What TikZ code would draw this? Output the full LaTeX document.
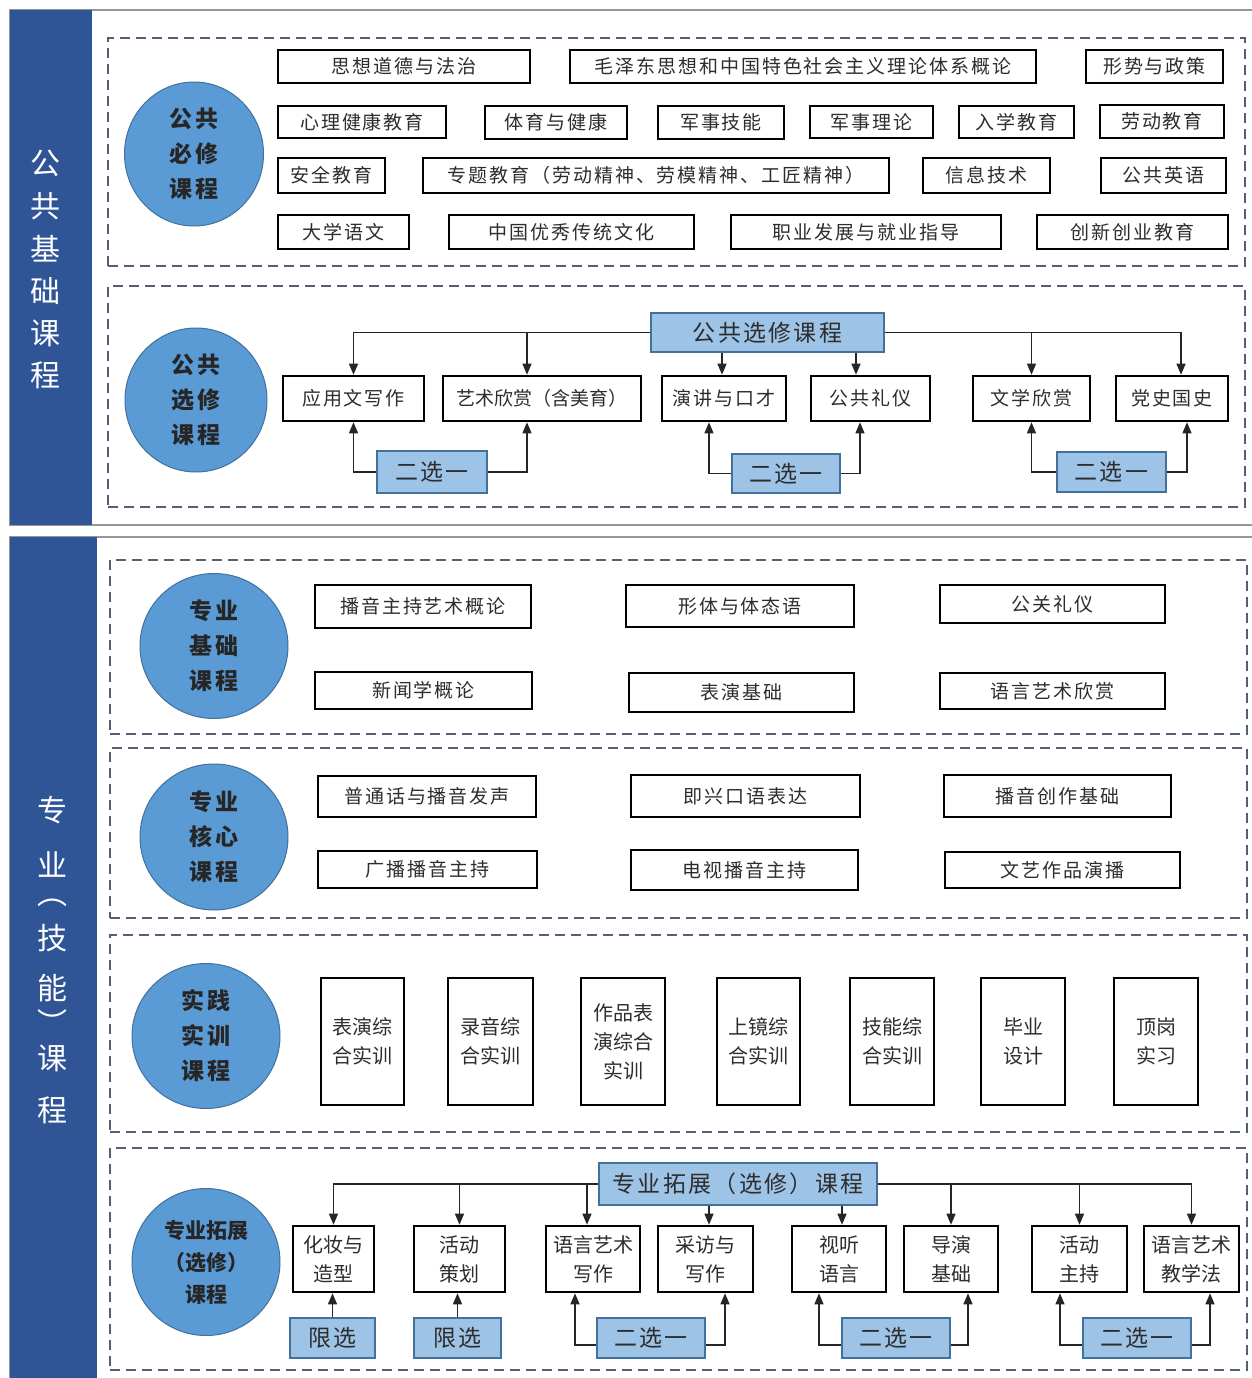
\documentclass[tikz,border=0pt]{standalone}
\usepackage{fontspec}
\setmainfont{Noto Sans CJK SC}
\newfontfamily\cjksp[LetterSpace=10]{Noto Sans CJK SC}
\usetikzlibrary{arrows.meta,calc,shapes.geometric}
\definecolor{barblue}{RGB}{47,85,151}
\definecolor{circblue}{RGB}{91,155,213}
\definecolor{circedge}{RGB}{65,113,156}
\definecolor{lightblue}{RGB}{157,195,230}
\definecolor{dashcol}{RGB}{85,95,115}
\definecolor{txt}{RGB}{45,45,45}
\definecolor{panelgray}{RGB}{150,150,150}
\tikzset{
 box/.style={draw=black, line width=2.6pt, fill=white, inner sep=0pt, text=txt, align=center, font=\cjksp\fontsize{19}{22}\selectfont},
 vbox/.style={box, font=\fontsize{20}{29}\selectfont},
 hbox/.style={draw=circedge, line width=1.2pt, fill=lightblue, inner sep=0pt, text=txt, align=center, font=\cjksp\fontsize{23}{26}\selectfont},
 grp/.style={draw=dashcol, line width=2.4pt, dash pattern=on 10pt off 6pt, inner sep=0pt},
 circ/.style={ellipse, draw=circedge, line width=1pt, fill=circblue, inner sep=0pt, align=center, text=black!85, font=\cjksp\bfseries\fontsize{23}{35}\selectfont},
 arr/.style={draw=black!85, line width=1.3pt, -{Triangle[length=11pt,width=9pt]}},
 sidetxt/.style={text=white, inner sep=0pt, font=\fontsize{30}{36}\selectfont},
}
\newcommand\mybox[7][box]{\node[#1,minimum width={#5-#3},minimum height={#6-#4}] (#2) at ({(#3+#5)/2},{(#4+#6)/2}) {#7};}
\begin{document}
\begin{tikzpicture}[x=1pt,y=-1pt]
\useasboundingbox (0,0) rectangle (1251,1378);
\fill[white] (0,0) rectangle (1251,1378);
% panels
\draw[panelgray, line width=1.5pt] (10,10) rectangle (1262,525);
\fill[barblue] (10,10) rectangle (92,525);
\draw[panelgray, line width=1.5pt] (10,537) rectangle (1262,1390);
\fill[barblue] (10,537) rectangle (97,1390);
\foreach \c/\y [count=\i] in {公/163,共/206,基/249,础/291,课/333,程/375}
  \node[sidetxt] (sa\i) at (45,\y) {\c};
\foreach \c/\y [count=\i] in {专/810,业/864,︵/903,技/938,能/988,︶/1022,课/1058,程/1110}
  \node[sidetxt] (sb\i) at (52,\y) {\c};

% ===== group 1: public required
\mybox[grp]{g1}{108}{38}{1245}{266}{}
\node[circ, minimum width=139, minimum height=144] (c1) at (194,154) {公共\\必修\\课程};
\mybox{a1}{278}{50}{530}{83}{思想道德与法治}
\mybox{a2}{570}{50}{1036}{83}{毛泽东思想和中国特色社会主义理论体系概论}
\mybox{a3}{1086}{50}{1223}{83}{形势与政策}
\mybox{a4}{278}{106}{446}{138}{心理健康教育}
\mybox{a5}{485}{106}{627}{139}{体育与健康}
\mybox{a6}{658}{106}{784}{139}{军事技能}
\mybox{a7}{810}{106}{933}{138}{军事理论}
\mybox{a8}{959}{106}{1074}{138}{入学教育}
\mybox{a9}{1100}{105}{1224}{138}{劳动教育}
\mybox{a10}{278}{158}{385}{193}{安全教育}
\mybox{a11}{423}{158}{889}{193}{专题教育（劳动精神、劳模精神、工匠精神）}
\mybox{a12}{923}{158}{1050}{193}{信息技术}
\mybox{a13}{1101}{158}{1226}{193}{公共英语}
\mybox{a14}{278}{215}{409}{249}{大学语文}
\mybox{a15}{449}{215}{694}{249}{中国优秀传统文化}
\mybox{a16}{731}{215}{1001}{249}{职业发展与就业指导}
\mybox{a17}{1037}{215}{1228}{249}{创新创业教育}

% ===== group 2: public elective
\mybox[grp]{g2}{108}{286}{1245}{507}{}
\node[circ, minimum width=142, minimum height=144] (c2) at (196,400) {公共\\选修\\课程};
\mybox[hbox]{hA}{651}{313}{884}{352}{公共选修课程}
\mybox{b1}{283}{376}{424}{421}{应用文写作}
\mybox[box,font=\fontsize{19}{22}\selectfont]{b2}{443}{376}{641}{421}{艺术欣赏（含美育）}
\mybox{b3}{662}{376}{786}{421}{演讲与口才}
\mybox{b4}{811}{376}{930}{421}{公共礼仪}
\mybox{b5}{973}{376}{1090}{421}{文学欣赏}
\mybox{b6}{1116}{376}{1228}{421}{党史国史}
\mybox[hbox]{s1}{377}{451}{487}{493}{二选一}
\mybox[hbox]{s2}{732}{454}{840}{493}{二选一}
\mybox[hbox]{s3}{1057}{452}{1166}{492}{二选一}
\coordinate (j2) at (527,0);
\coordinate (j3) at (722,0);
\coordinate (j4) at (856,0);
\coordinate (j6) at (1181,0);
\coordinate (u3) at (709,0);
\coordinate (u4) at (860,0);
\coordinate (u6) at (1187,0);
\draw[arr] (hA.west) -| (b1.north);
\draw[arr] (j2 |- hA.west) -- (j2 |- b2.north);
\draw[arr] (j3 |- hA.south) -- (j3 |- b3.north);
\draw[arr] (j4 |- hA.south) -- (j4 |- b4.north);
\draw[arr] (hA.east) -| (j6 |- b6.north);
\draw[arr] (b5.north |- hA.east) -- (b5.north);
\draw[arr] (s1.west) -| (b1.south);
\draw[arr] (s1.east) -| (j2 |- b2.south);
\draw[arr] (s2.west) -| (u3 |- b3.south);
\draw[arr] (s2.east) -| (u4 |- b4.south);
\draw[arr] (s3.west) -| (b5.south);
\draw[arr] (s3.east) -| (u6 |- b6.south);

% ===== group 3: professional basics
\mybox[grp]{g3}{110}{560}{1247}{734}{}
\node[circ, minimum width=148, minimum height=145] (c3) at (214,646) {专业\\基础\\课程};
\mybox{p1}{315}{585}{531}{628}{播音主持艺术概论}
\mybox{p2}{626}{585}{854}{627}{形体与体态语}
\mybox{p3}{940}{585}{1165}{623}{公关礼仪}
\mybox{p4}{315}{672}{532}{709}{新闻学概论}
\mybox{p5}{629}{673}{854}{712}{表演基础}
\mybox{p6}{940}{673}{1165}{709}{语言艺术欣赏}

% ===== group 4: professional core
\mybox[grp]{g4}{110}{748}{1247}{918}{}
\node[circ, minimum width=148, minimum height=146] (c4) at (214,837) {专业\\核心\\课程};
\mybox{q1}{318}{776}{536}{817}{普通话与播音发声}
\mybox{q2}{631}{775}{860}{817}{即兴口语表达}
\mybox{q3}{944}{775}{1171}{817}{播音创作基础}
\mybox{q4}{318}{851}{537}{888}{广播播音主持}
\mybox{q5}{631}{850}{858}{890}{电视播音主持}
\mybox{q6}{945}{852}{1180}{888}{文艺作品演播}

% ===== group 5: practice
\mybox[grp]{g5}{110}{935}{1247}{1132}{}
\node[circ, minimum width=148, minimum height=145] (c5) at (206,1036) {实践\\实训\\课程};
\mybox[vbox]{r1}{321}{978}{404}{1105}{表演综\\合实训}
\mybox[vbox]{r2}{448}{978}{533}{1105}{录音综\\合实训}
\mybox[vbox]{r3}{581}{978}{665}{1105}{作品表\\演综合\\实训}
\mybox[vbox]{r4}{717}{978}{800}{1105}{上镜综\\合实训}
\mybox[vbox]{r5}{850}{978}{934}{1105}{技能综\\合实训}
\mybox[vbox]{r6}{981}{978}{1065}{1105}{毕业\\设计}
\mybox[vbox]{r7}{1114}{978}{1198}{1105}{顶岗\\实习}

% ===== group 6: extension electives
\mybox[grp]{g6}{110}{1148}{1247}{1370}{}
\node[circ, minimum width=148, minimum height=147, font=\bfseries\fontsize{21}{32}\selectfont] (c6) at (206,1262) {专业拓展\\（选修）\\课程};
\mybox[hbox]{hB}{599}{1163}{877}{1205}{专业拓展（选修）课程}
\mybox[vbox]{e1}{293}{1226}{374}{1292}{化妆与\\造型}
\mybox[vbox]{e2}{414}{1226}{505}{1292}{活动\\策划}
\mybox[vbox]{e3}{546}{1226}{640}{1292}{语言艺术\\写作}
\mybox[vbox]{e4}{658}{1226}{753}{1292}{采访与\\写作}
\mybox[vbox]{e5}{792}{1226}{886}{1292}{视听\\语言}
\mybox[vbox]{e6}{904}{1226}{998}{1292}{导演\\基础}
\mybox[vbox]{e7}{1032}{1226}{1127}{1292}{活动\\主持}
\mybox[vbox]{e8}{1144}{1226}{1239}{1292}{语言艺术\\教学法}
\mybox[hbox]{x1}{290}{1318}{375}{1358}{限选}
\mybox[hbox]{x2}{414}{1318}{501}{1358}{限选}
\mybox[hbox]{z1}{597}{1318}{705}{1358}{二选一}
\mybox[hbox]{z2}{842}{1318}{950}{1358}{二选一}
\mybox[hbox]{z3}{1083}{1318}{1191}{1358}{二选一}
\coordinate (k3) at (587,0);
\coordinate (k4) at (709,0);
\coordinate (k5) at (842,0);
\coordinate (w1) at (575,0);
\coordinate (w2) at (725,0);
\coordinate (w3) at (819,0);
\coordinate (w4) at (968,0);
\coordinate (w5) at (1060,0);
\coordinate (w6) at (1210,0);
\draw[arr] (hB.west) -| (e1.north);
\draw[arr] (e2.north |- hB.west) -- (e2.north);
\draw[arr] (k3 |- hB.west) -- (k3 |- e3.north);
\draw[arr] (k4 |- hB.south) -- (k4 |- e4.north);
\draw[arr] (k5 |- hB.south) -- (k5 |- e5.north);
\draw[arr] (hB.east) -| (e8.north);
\draw[arr] (e6.north |- hB.east) -- (e6.north);
\draw[arr] (e7.north |- hB.east) -- (e7.north);
\draw[arr] (x1.north) -- (x1.north |- e1.south);
\draw[arr] (x2.north) -- (x2.north |- e2.south);
\draw[arr] ($(z1.west)+(0,7)$) -| (w1 |- e3.south);
\draw[arr] ($(z1.east)+(0,7)$) -| (w2 |- e4.south);
\draw[arr] ($(z2.west)+(0,7)$) -| (w3 |- e5.south);
\draw[arr] ($(z2.east)+(0,7)$) -| (w4 |- e6.south);
\draw[arr] ($(z3.west)+(0,7)$) -| (w5 |- e7.south);
\draw[arr] ($(z3.east)+(0,7)$) -| (w6 |- e8.south);
\end{tikzpicture}
\end{document}
